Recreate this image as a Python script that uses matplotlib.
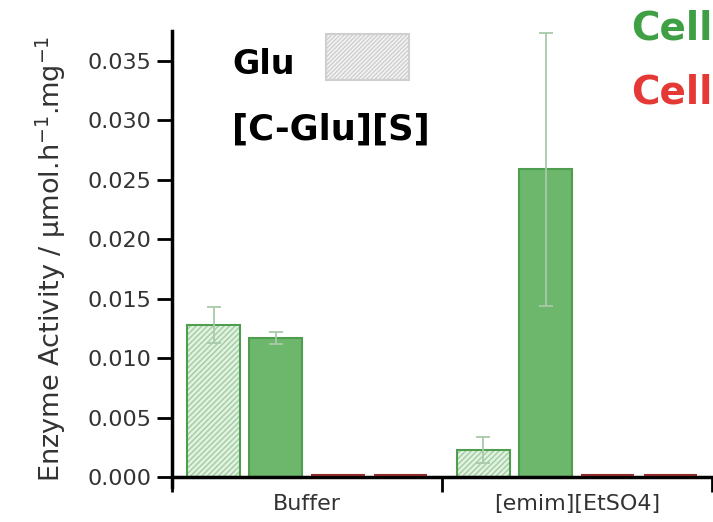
import numpy as np
import matplotlib.pyplot as plt
from matplotlib.patches import Rectangle

# enzyme activity, umol/h/mg
conditions = ["Buffer", "[emim][EtSO4]"]
glu_free = [0.0128, 0.0023]
glu_free_err = [0.0015, 0.0011]
glu_cell = [0.0117, 0.0259]
glu_cell_err = [0.0005, 0.0115]
cglu_free = [0.0, 0.0]
cglu_cell = [0.0, 0.0]

green = "#6cb76c"
green_edge = "#4f9e4f"
light_green = "#e2f1e2"
hatch_green = "#9fcf9f"
err_col = "#a9c9a9"
red_edge = "#8e2a2a"

fig = plt.figure(figsize=(7.13, 5.22), dpi=100)
ax = fig.add_axes([0.2412, 0.068, 0.757, 0.872])

x = np.arange(len(conditions))
offsets = [0.154, 0.385, 0.615, 0.846]
w = 0.197

# hatched bars: fill + hatch first, outline drawn on top
ax.bar(x + offsets[0], glu_free, w, color=light_green, edgecolor=hatch_green,
       hatch="//////", linewidth=0, zorder=2)
ax.bar(x + offsets[0], glu_free, w, fill=False, edgecolor=green_edge, linewidth=1.5, zorder=3)
ax.bar(x + offsets[1], glu_cell, w, color=green, edgecolor=green_edge, linewidth=1.5, zorder=2)
ax.bar(x + offsets[2], cglu_free, w, bottom=0.0002, color="none", edgecolor=red_edge, linewidth=1.5, zorder=6)
ax.bar(x + offsets[3], cglu_cell, w, bottom=0.0002, color="none", edgecolor=red_edge, linewidth=1.5, zorder=6)

ax.errorbar(x + offsets[0], glu_free, yerr=glu_free_err, fmt="none", ecolor=err_col,
            elinewidth=1.3, capsize=5, capthick=1.3, zorder=4)
ax.errorbar(x + offsets[1], glu_cell, yerr=glu_cell_err, fmt="none", ecolor=err_col,
            elinewidth=1.3, capsize=5, capthick=1.3, zorder=4)

ax.set_xlim(0, 2)
ax.set_ylim(-0.0008, 0.0375)
yt = np.arange(0, 0.0351, 0.005)
ax.set_yticks(yt)
ax.set_yticklabels([f"{v:.3f}" for v in yt])
ax.set_xticks(x + 0.5)
ax.set_xticklabels(conditions)
ax.set_xticks([0, 1, 2], minor=True)
ax.tick_params(axis="x", which="major", length=0, labelsize=16, pad=12, colors="#333333")
ax.tick_params(axis="x", which="minor", length=11, width=2, direction="out")
ax.tick_params(axis="y", length=11, width=2, labelsize=16, pad=4, colors="black", labelcolor="#333333")
ax.set_ylabel("Enzyme Activity / µmol.h$^{-1}$.mg$^{-1}$", fontsize=19.5, color="#333333", labelpad=14)

for s in ["top", "right"]:
    ax.spines[s].set_visible(False)
ax.spines["bottom"].set_position(("data", 0))
ax.spines["bottom"].set_linewidth(2.5)
ax.spines["left"].set_linewidth(2.5)
ax.spines["bottom"].set_zorder(5)

# legend-like annotations
fig.text(232 / 713, 1 - 64 / 522, "Glu", fontsize=24, fontweight="bold", va="center")
fig.text(232 / 713, 1 - 130 / 522, "[C-Glu][S]", fontsize=25.5, fontweight="bold", va="center")
sw = Rectangle((326 / 713, 1 - 80 / 522), 83 / 713, 46 / 522, transform=fig.transFigure,
               facecolor="#f4f4f4", edgecolor="#cfcfcf", hatch="////////", linewidth=1.5)
fig.patches.append(sw)
fig.text(631 / 713, 1 - 29 / 522, "Cell", fontsize=28, fontweight="bold", va="center", color="#3f9f45")
fig.text(631 / 713, 1 - 93 / 522, "Cell", fontsize=28, fontweight="bold", va="center", color="#e53935")

fig.savefig("out.png", dpi=100)
